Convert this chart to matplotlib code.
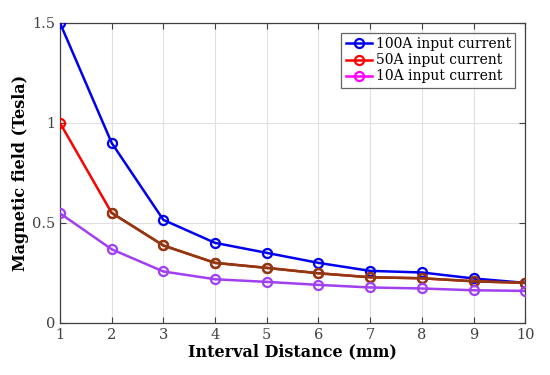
import matplotlib
matplotlib.use("Agg")
import matplotlib.pyplot as plt

distance = [1, 2, 3, 4, 5, 6, 7, 8, 9, 10]
b_100A = [1.5, 0.9, 0.515, 0.40, 0.35, 0.30, 0.26, 0.252, 0.222, 0.20]
b_50A = [1.0, 0.55, 0.387, 0.30, 0.275, 0.248, 0.228, 0.223, 0.208, 0.20]
b_10A = [0.548, 0.368, 0.257, 0.218, 0.205, 0.19, 0.177, 0.172, 0.163, 0.16]
labels = ["100A input current", "50A input current", "10A input current"]
xticks = [1, 2, 3, 4, 5, 6, 7, 8, 9, 10]
yticks = [0, 0.5, 1, 1.5]
yticklabels = ["0", "0.5", "1", "1.5"]

plt.rcParams['font.family'] = ['DejaVu Serif']

fig = plt.figure(figsize=(5.5, 3.75), dpi=100)
ax = fig.add_axes([0.109, 0.139, 0.846, 0.80])

lw = 1.8
ms = 6.5
ax.plot(distance, b_100A, color='#0000ee', lw=lw, marker='o', ms=ms, mfc='none', mew=1.6, label=labels[0], zorder=3)
ax.plot(distance, b_50A, color='#ff0000', lw=lw, marker='o', ms=ms, mfc='none', mew=1.6, label=labels[1], zorder=3)
ax.plot(distance[1:], b_50A[1:], color='#8b3a12', lw=lw, marker='o', ms=ms, mfc='none', mew=1.6, zorder=3)
ax.plot(distance, b_10A, color='#a040f0', lw=lw, marker='o', ms=ms, mfc='none', mew=1.6, zorder=3)
ax.plot([], [], color='#ff00ff', lw=lw, marker='o', ms=ms, mfc='none', mew=1.6, label=labels[2])

ax.set_xlim(1, 10)
ax.set_ylim(0, 1.5)
ax.set_xticks(xticks)
ax.set_yticks(yticks)
ax.set_yticklabels(yticklabels)
ax.tick_params(direction='in', top=True, right=True, labelsize=10.5, labelcolor='#404040', color='#404040', length=4)
ax.grid(True, color='#e0e0e0', lw=0.8)
ax.set_axisbelow(True)
for s in ax.spines.values():
    s.set_color('#404040')
    s.set_linewidth(0.9)

ax.set_xlabel("Interval Distance (mm)", fontsize=11.5, fontweight='bold', labelpad=1)
ax.set_ylabel("Magnetic field (Tesla)", fontsize=11.5, fontweight='bold', labelpad=2)

leg = ax.legend(loc='upper right', bbox_to_anchor=(0.985, 0.975), fontsize=10, frameon=True, fancybox=False,
                edgecolor='#404040', borderpad=0.3, handlelength=1.9, handletextpad=0.3, labelspacing=0.15,
                borderaxespad=0.2)
leg.get_frame().set_linewidth(0.9)

fig.savefig("out.png", dpi=100)
